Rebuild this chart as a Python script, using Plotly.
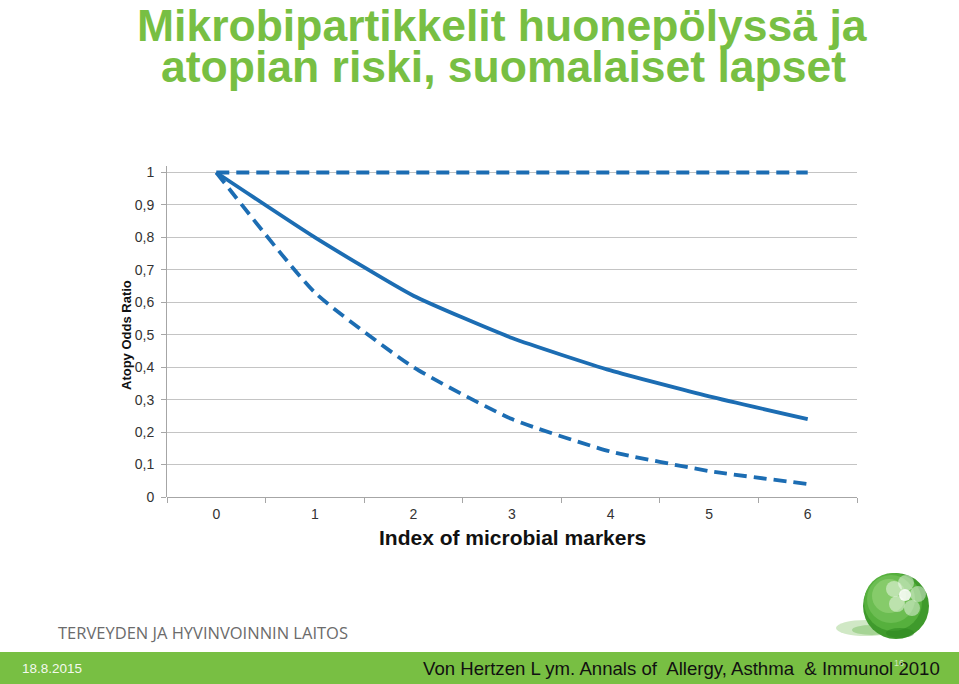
import plotly.graph_objects as go

categories = ["0", "1", "2", "3", "4", "5", "6"]
upper_ci = [1, 1, 1, 1, 1, 1, 1]
odds_ratio = [1, 0.80, 0.62, 0.49, 0.39, 0.31, 0.24]
lower_ci = [1, 0.63, 0.40, 0.24, 0.14, 0.08, 0.04]
y_ticks = [0, 0.1, 0.2, 0.3, 0.4, 0.5, 0.6, 0.7, 0.8, 0.9, 1]
y_tick_text = ["0", "0,1", "0,2", "0,3", "0,4", "0,5", "0,6", "0,7", "0,8", "0,9", "1"]

W, H = 959, 684
L, R, T, B = 167, 102, 166, 187
PW, PH = W - L - R, H - T - B

def px(x):
    return (x - L) / PW

def py(y):
    return (H - B - y) / PH

BLUE = "#1c6db3"
GREEN = "#78bf43"
FONT = "Liberation Sans, Arial, sans-serif"

fig = go.Figure()
fig.add_trace(go.Scatter(x=categories, y=upper_ci, mode="lines",
                         line=dict(color=BLUE, width=3.8, dash="13px,7px"),
                         showlegend=False))
fig.add_trace(go.Scatter(x=categories, y=odds_ratio, mode="lines",
                         line=dict(color=BLUE, width=3.8, shape="spline", smoothing=0.5),
                         showlegend=False))
fig.add_trace(go.Scatter(x=categories, y=lower_ci, mode="lines",
                         line=dict(color=BLUE, width=3.8, dash="13px,7px", shape="spline", smoothing=0.5),
                         showlegend=False))

shapes = []
# green footer band
shapes.append(dict(type="rect", xref="paper", yref="paper", x0=px(0), x1=px(W),
                   y0=py(H), y1=py(652), fillcolor=GREEN, line=dict(width=0), layer="below"))

# decorative ball
def circ(cx, cy, rx, ry, color, opacity=1.0):
    return dict(type="circle", xref="paper", yref="paper",
                x0=px(cx - rx), x1=px(cx + rx), y0=py(cy + ry), y1=py(cy - ry),
                fillcolor=color, opacity=opacity, line=dict(width=0), layer="above")

shapes.append(circ(866, 628, 30, 8, "#a9d596", 0.55))
shapes.append(circ(872, 630, 20, 5, "#7cbf66", 0.5))
shapes.append(circ(896, 606, 33, 33, "#3f9a2c"))
shapes.append(circ(893, 602, 29, 29, "#56b03d"))
shapes.append(circ(891, 599, 24, 24, "#6cbd52"))
shapes.append(circ(889, 596, 17, 17, "#86cb6a"))
shapes.append(circ(900, 633, 14, 5, "#2e8a22", 0.6))
# flower petals
for (cx, cy) in [(906, 583), (918, 594), (912, 608), (897, 604), (894, 589)]:
    shapes.append(circ(cx, cy, 8, 8, "#ffffff", 0.45))
shapes.append(circ(905, 595, 6, 6, "#ffffff", 0.85))

annotations = [
    dict(text="<b>Mikrobipartikkelit huonepölyssä ja</b>", x=px(502), y=py(25),
         xref="paper", yref="paper", xanchor="center", yanchor="middle", showarrow=False,
         font=dict(family=FONT, size=44.5, color=GREEN)),
    dict(text="<b>atopian riski, suomalaiset lapset</b>", x=px(503), y=py(67),
         xref="paper", yref="paper", xanchor="center", yanchor="middle", showarrow=False,
         font=dict(family=FONT, size=44.5, color=GREEN)),
    dict(text="<b>Index of microbial markers</b>", x=px(512), y=py(537),
         xref="paper", yref="paper", xanchor="center", yanchor="middle", showarrow=False,
         font=dict(family=FONT, size=21, color="#111111")),
    dict(text="<b>Atopy Odds Ratio</b>", x=px(126), y=py(335), textangle=-90,
         xref="paper", yref="paper", xanchor="center", yanchor="middle", showarrow=False,
         font=dict(family=FONT, size=13, color="#111111")),
    dict(text="TERVEYDEN JA HYVINVOINNIN LAITOS", x=px(56), y=py(632),
         xref="paper", yref="paper", xanchor="left", yanchor="middle", showarrow=False,
         font=dict(family="Open Sans, sans-serif", size=16.5, color="#6b6b6b")),
    dict(text="18.8.2015", x=px(20), y=py(668),
         xref="paper", yref="paper", xanchor="left", yanchor="middle", showarrow=False,
         font=dict(family=FONT, size=13.5, color="#f4f9ee")),
    dict(text="Von Hertzen L ym. Annals of  Allergy, Asthma  & Immunol 2010", x=px(421), y=py(668),
         xref="paper", yref="paper", xanchor="left", yanchor="middle", showarrow=False,
         font=dict(family=FONT, size=18.6, color="#111111")),
    dict(text="16", x=px(899), y=py(663),
         xref="paper", yref="paper", xanchor="center", yanchor="middle", showarrow=False,
         font=dict(family=FONT, size=9, color="#cfe6bf")),
]

fig.update_layout(
    width=W, height=H,
    margin=dict(l=L, r=R, t=T, b=B, pad=0),
    paper_bgcolor="white", plot_bgcolor="white",
    shapes=shapes, annotations=annotations,
    font=dict(family=FONT, size=14, color="#333333"),
    xaxis=dict(type="category", range=[-0.5, 6.5], tickson="boundaries",
               ticks="outside", ticklen=5, tickcolor="#a6a6a6",
               showgrid=False, showline=False, zeroline=False,
               tickfont=dict(size=14, color="#333333"), ticklabelstandoff=7),
    yaxis=dict(range=[0, 1.02], tickvals=y_ticks, ticktext=y_tick_text,
               ticks="outside", ticklen=5, tickcolor="#a6a6a6",
               showline=True, linecolor="#a6a6a6", linewidth=1,
               showgrid=True, gridcolor="#c4c4c4", gridwidth=1,
               zeroline=True, zerolinecolor="#a6a6a6", zerolinewidth=1,
               tickfont=dict(size=14, color="#333333"), ticklabelstandoff=4),
)

fig.write_html("out.html", config={"displayModeBar": False},
               post_script="document.body.style.margin='0';document.body.style.overflow='hidden';")
